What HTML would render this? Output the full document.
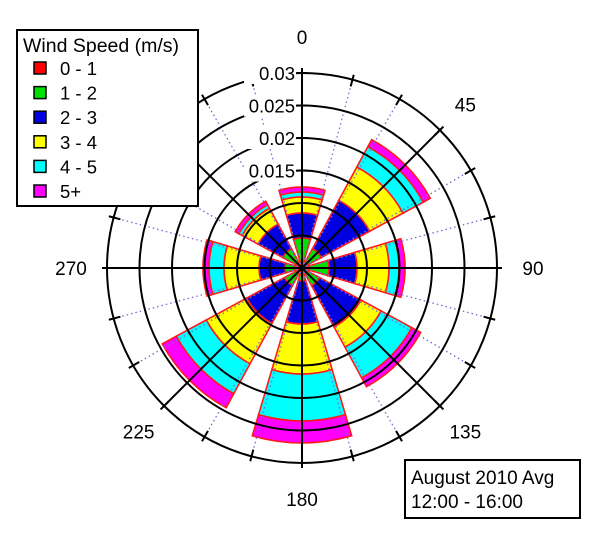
<!DOCTYPE html>
<html><head><meta charset="utf-8"><style>
html,body{margin:0;padding:0;background:#fff;}
svg{display:block;font-family:"Liberation Sans",Arial,sans-serif;}
</style></head><body>
<svg id="s" width="600" height="537" viewBox="0 0 600 537" xmlns="http://www.w3.org/2000/svg">
<g id="bars"></g>
<g id="grid"></g>
<g id="lab"></g>
</svg>
<script>
var NS="http://www.w3.org/2000/svg",cx=302,cy=268;
function el(p,t,a,txt){var e=document.createElementNS(NS,t);for(var k in a)e.setAttribute(k,a[k]);if(txt!==undefined)e.textContent=txt;p.appendChild(e);return e;}
function pt(r,a){var t=(a-90)*Math.PI/180;return [cx+r*Math.cos(t),cy+r*Math.sin(t)];}
function sector(r0,r1,a0,a1){var p1=pt(r1,a0),p2=pt(r1,a1),p3=pt(r0,a1),p4=pt(r0,a0);
return "M"+p4+"L"+p1+"A"+r1+","+r1+" 0 0 1 "+p2+"L"+p3+(r0>0?"A"+r0+","+r0+" 0 0 0 "+p4:"")+"Z";}
var cols=["#ff0000","#00e000","#0000e0","#ffff00","#00ffff","#ff00ff"];
var data={0:[2,30,55,71,76,81],45:[2,22,77,115,138,146],90:[2,27,55,87,97,103],135:[2,20,67,90,125,135],
180:[2,13,56,106,153,175],225:[2,20,63,109,143,159],270:[2,17,43,78,93,99],315:[2,22,50,68,72,76]};
var B=document.getElementById("bars");
for(var d in data){var a=+d,rs=data[d],prev=0;for(var i=0;i<6;i++){
el(B,"path",{d:sector(prev,rs[i],a-16.5,a+16.5),fill:cols[i],stroke:"#ff1a1a","stroke-width":1.6});prev=rs[i];}}
var G=document.getElementById("grid");
for(var a=0;a<360;a+=15){if(a%45){var p=pt(195,a);el(G,"line",{x1:cx,y1:cy,x2:p[0],y2:p[1],stroke:"#7070d0","stroke-width":1.3,"stroke-dasharray":"1.5,3"});}}
for(var k=1;k<=6;k++)el(G,"circle",{cx:cx,cy:cy,r:32.5*k,fill:"none",stroke:"#000","stroke-width":2});
for(var a=0;a<360;a+=45){var p=pt(197,a);el(G,"line",{x1:cx,y1:cy,x2:p[0],y2:p[1],stroke:"#000","stroke-width":2});}
for(var a=0;a<360;a+=15){var p=pt(188,a),q=pt(200,a);el(G,"line",{x1:p[0],y1:p[1],x2:q[0],y2:q[1],stroke:"#000","stroke-width":2});}
var L=document.getElementById("lab");
var ang=[["0",0],["45",45],["90",90],["135",135],["180",180],["225",225],["270",270]];
ang.forEach(function(x){var p=pt(231,x[1]);el(L,"text",{x:p[0],y:p[1]+7,"text-anchor":"middle","font-size":19},x[0]);});
[["0.03",0.03],["0.025",0.025],["0.02",0.02],["0.015",0.015]].forEach(function(x){var y=cy-x[1]*6500;
el(L,"rect",{x:244,y:y-11,width:52,height:22,fill:"#fff"});
el(L,"text",{x:295,y:y+7,"text-anchor":"end","font-size":18.5},x[0]);
el(L,"line",{x1:297,y1:y,x2:307,y2:y,stroke:"#000","stroke-width":2});});
el(L,"rect",{x:17,y:30,width:181,height:176,fill:"#fff",stroke:"#000","stroke-width":2});
el(L,"text",{x:23,y:52,"font-size":19.5},"Wind Speed (m/s)");
var names=["0 - 1","1 - 2","2 - 3","3 - 4","4 - 5","5+"];
for(var i=0;i<6;i++){var y=68+i*24.6;
el(L,"rect",{x:34,y:y-6,width:12,height:12,fill:cols[i],stroke:"#000","stroke-width":1.5});
el(L,"text",{x:60,y:y+7,"font-size":18.5},names[i]);}
el(L,"rect",{x:405,y:460,width:175,height:58,fill:"#fff",stroke:"#000","stroke-width":2});
el(L,"text",{x:411,y:484,"font-size":19},"August 2010 Avg");
el(L,"text",{x:411,y:508,"font-size":19},"12:00 - 16:00");
</script>
</body></html>
